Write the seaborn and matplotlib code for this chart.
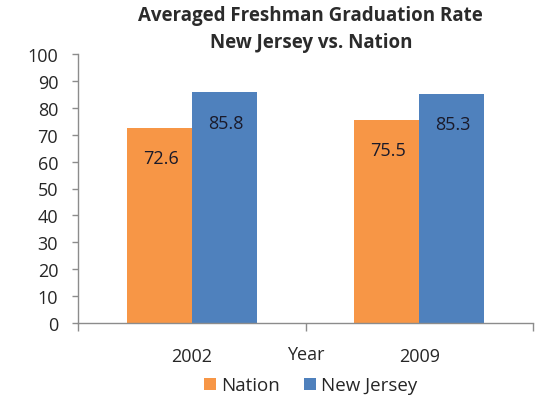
import matplotlib
matplotlib.use("Agg")
import matplotlib.pyplot as plt
import matplotlib.transforms as mtransforms
import seaborn as sns
import pandas as pd

# values
years = ["2002", "2009"]
nation = [72.6, 75.5]
new_jersey = [85.8, 85.3]
series_names = ["Nation", "New Jersey"]
colors = ["#F79646", "#4F81BD"]

df = pd.DataFrame({
    "Year": years * 2,
    "Rate": nation + new_jersey,
    "Group": [series_names[0]] * 2 + [series_names[1]] * 2,
})

sns.set_style("white")
plt.rcParams['font.family'] = ['Open Sans', 'DejaVu Sans']

text_col = "#262626"
axis_col = "#8c8c8c"

fig = plt.figure(figsize=(5.43, 4.02), dpi=100)
ax = fig.add_axes([78 / 543, 1 - 324 / 402, 455 / 543, 269 / 402])

sns.barplot(data=df, x="Year", y="Rate", hue="Group", palette=colors,
            width=0.57, gap=0, saturation=1, linewidth=0, ax=ax, legend=True)

# value labels inside the bars, a bit under the top
for cont in ax.containers:
    for bar in cont:
        h = bar.get_height()
        ax.annotate(f"{h:.1f}", (bar.get_x() + bar.get_width() / 2, h),
                    xytext=(1, -22), textcoords="offset points",
                    ha="center", va="center", fontsize=13, color="#1a1a2a")

ax.set_ylim(0, 100)
ax.set_yticks(range(0, 101, 10))
ax.set_xlim(-0.5, 1.5)
ax.set_xticks([-0.5, 0.5, 1.5], minor=True)
ax.tick_params(axis="x", which="major", length=0, pad=17, labelsize=13, labelcolor=text_col)
ax.tick_params(axis="x", which="minor", length=5.5, width=1, color=axis_col, direction="out", bottom=True)
ax.tick_params(axis="y", length=4.3, width=1, color=axis_col, direction="out", left=True,
               labelsize=13, pad=10, labelcolor=text_col)
ax.set_xlabel("")
ax.set_ylabel("")

for s in ["top", "right"]:
    ax.spines[s].set_visible(False)
for s in ["left", "bottom"]:
    ax.spines[s].set_color(axis_col)
    ax.spines[s].set_linewidth(1)

trans = mtransforms.blended_transform_factory(ax.transData, ax.transAxes)
ax.text(0.5, -0.117, "Year", transform=trans, ha="center", va="center",
        fontsize=13, color=text_col)

fig.text(310 / 543, 1 - 21 / 402, "Averaged Freshman Graduation Rate", ha="center",
         va="baseline", fontsize=13.5, fontweight="bold", color="#2b2b2b")
fig.text(311 / 543, 1 - 48 / 402, "New Jersey vs. Nation", ha="center",
         va="baseline", fontsize=13.5, fontweight="bold", color="#2b2b2b")

leg = ax.legend(loc="center", bbox_to_anchor=(0.512, -0.232), ncol=2, frameon=False,
                fontsize=13.5, handlelength=0.6, handleheight=0.6, handletextpad=0.3,
                columnspacing=1.3, borderpad=0)
for t in leg.get_texts():
    t.set_color(text_col)

fig.savefig("out.png", dpi=100)
